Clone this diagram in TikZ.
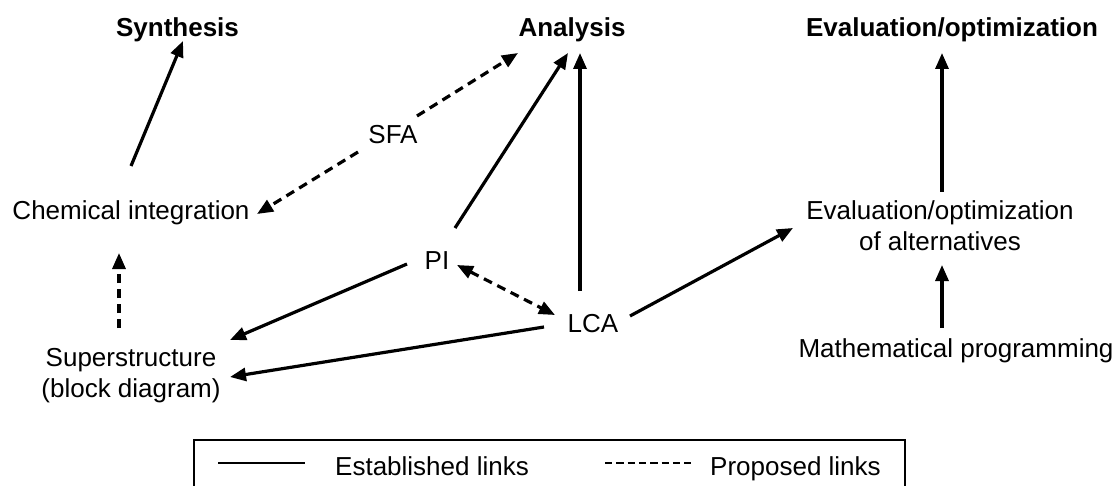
\documentclass[tikz,border=0pt]{standalone}
\usepackage{fontspec}
\setmainfont{Liberation Sans}
\usetikzlibrary{arrows.meta}
\begin{document}
\begin{tikzpicture}[x=1pt,y=-1pt,
  lbl/.style={inner sep=0pt, font=\fontsize{26}{31}\selectfont, align=center},
  head/.style={inner sep=0pt, font=\fontsize{26}{31}\selectfont\bfseries},
  tip/.style={-{Triangle[length=16pt,width=13pt]}},
  link/.style={line width=3.2pt, tip},
  plink/.style={link, dash pattern=on 9pt off 6pt},
  twoway/.style={line width=3.2pt, dash pattern=on 9pt off 6pt,
    {Triangle[length=16pt,width=13pt]}-{Triangle[length=16pt,width=13pt]}},
  legline/.style={line width=1.5pt},
  legdash/.style={line width=1.5pt, dash pattern=on 7.3pt off 4pt}
]
\useasboundingbox (0,0) rectangle (1115,486);

% column headings
\node[head, anchor=base] (syn) at (177.5,37) {Synthesis};
\node[head, anchor=base] (ana) at (572,37) {Analysis};
\node[head, anchor=base] (evo) at (952,37) {Evaluation/optimization};

% methods
\node[lbl, anchor=base]  (sfa)  at (393,144) {SFA};
\node[lbl, anchor=base]  (chem) at (131,220) {Chemical integration};
\node[lbl, anchor=base]  (pi)   at (437,269) {PI};
\node[lbl, anchor=base]  (lca)  at (593,332) {LCA};
\node[lbl, anchor=north] (sup)  at (131,348) {Superstructure\\(block diagram)};
\node[lbl, anchor=north] (eva)  at (940,200) {Evaluation/optimization\\of alternatives};
\node[lbl, anchor=base]  (math) at (956,357) {Mathematical programming};

% established links
\draw[link] ([shift={(0,-54)}]chem.base) -- ([shift={(5.5,4)}]syn.base);
\draw[link] ([shift={(18,-41)}]pi.base) -- ([shift={(-4,16)}]ana.base);
\draw[link] ([shift={(-13,-41)}]lca.base) -- ([shift={(8,16)}]ana.base);
\draw[link] ([shift={(-30,-5)}]pi.base) -- ([shift={(99,-8)}]sup.north);
\draw[link] ([shift={(-49,-5)}]lca.base) -- ([shift={(99,29)}]sup.north);
\draw[link] ([shift={(37,-16)}]lca.base) -- ([shift={(-147,28)}]eva.north);
\draw[link] ([shift={(-14,-29)}]math.base) -- ([shift={(2,65)}]eva.north);
\draw[link] ([shift={(2,-8)}]eva.north) -- ([shift={(-10,16)}]evo.base);

% proposed links
\draw[plink] ([shift={(-35,8)}]sfa.base) -- ([shift={(126,-6)}]chem.base);
\draw[plink] ([shift={(24,-28)}]sfa.base) -- ([shift={(-54,16)}]ana.base);
\draw[plink] ([shift={(-12,-20)}]sup.north) -- ([shift={(-12,33)}]chem.base);
\draw[twoway] ([shift={(20,-4)}]pi.base) -- ([shift={(-38,-17)}]lca.base);

% legend
\draw[line width=1.5pt] (194,488) -- (194,440) -- (905,440) -- (905,488);
\coordinate (s0) at (218,463);
\coordinate (s1) at (305,463);
\coordinate (d0) at (605,463);
\coordinate (d1) at (692,463);
\draw[legline] (s0) -- (s1);
\draw[legdash] (d0) -- (d1);
\node[lbl, anchor=base west] (est) at (335,475) {Established links};
\node[lbl, anchor=base west] (pro) at (710,475) {Proposed links};
\end{tikzpicture}
\end{document}
